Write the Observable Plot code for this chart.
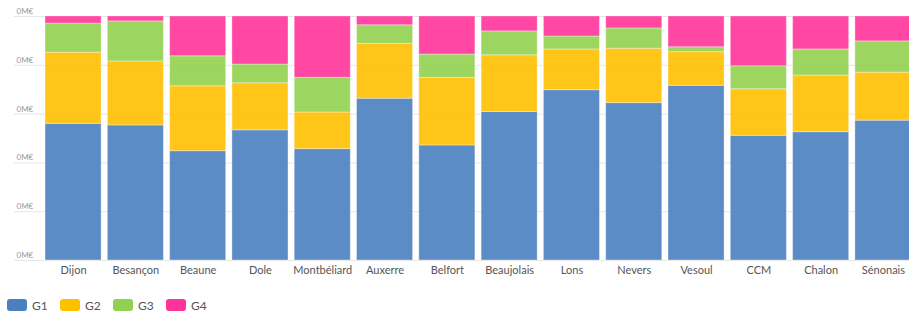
<!DOCTYPE html>
<html>
<head>
<meta charset="utf-8">
<script src="https://cdn.jsdelivr.net/npm/d3@7"></script>
<script src="https://cdn.jsdelivr.net/npm/@observablehq/plot@0.6"></script>
<style>
  html, body { margin: 0; padding: 0; background: #fff; overflow: hidden; }
  body { width: 909px; height: 313px; font-family: Lato, "Noto Sans", sans-serif; }
  #chart svg { display: block; }
  #legend { display: flex; padding-top: 12px; padding-left: 7px; height: 16px; }
  .item { display: flex; align-items: center; width: 53px; font-size: 12px; color: #555; }
  .sw { width: 20px; height: 12px; border-radius: 3px; margin-right: 5px; }
</style>
</head>
<body>
<div id="chart"></div>
<div id="legend"></div>
<script>
const categories = ["Dijon","Besançon","Beaune","Dole","Montbéliard","Auxerre","Belfort","Beaujolais","Lons","Nevers","Vesoul","CCM","Chalon","Sénonais"];
const seriesNames = ["G1","G2","G3","G4"];
const colors = ["#4A7FC0","#FFC000","#92D050","#FF3399"];
const G1 = [56.0,55.3,44.8,53.4,45.6,66.3,47.1,60.8,69.8,64.5,71.6,51.1,52.6,57.3];
const G2 = [29.2,26.2,26.6,19.3,15.0,22.5,27.7,23.2,16.7,22.3,13.8,19.1,23.2,19.7];
const G3 = [11.9,16.4,12.3,7.7,14.2,7.6,9.5,9.8,5.3,8.3,2.0,9.4,10.7,12.8];
const G4 = [2.9,2.0,16.3,19.7,25.1,3.6,15.6,6.1,8.2,4.9,12.6,20.4,13.5,10.2];
const yTicks = [0,0.2,0.4,0.6,0.8,1];
const yTickLabels = ["0M€","0M€","0M€","0M€","0M€","0M€"];

const seriesValues = [G1,G2,G3,G4];
const data = [];
seriesNames.forEach((s, si) => {
  categories.forEach((c, ci) => data.push({cat: c, series: s, value: seriesValues[si][ci]}));
});

const chart = Plot.plot({
  width: 909,
  height: 285,
  marginLeft: 14,
  marginRight: 0,
  marginTop: 16,
  marginBottom: 25,
  style: {fontFamily: "Lato, 'Noto Sans', sans-serif", background: "#fff"},
  x: {domain: categories, range: [38.8, 917.2], padding: 0.1, round: false, label: null},
  y: {domain: [0,1], label: null},
  color: {domain: seriesNames, range: colors},
  marks: [
    Plot.gridY(yTicks, {stroke: "#e6e6e6", strokeOpacity: 1}),
    Plot.axisY(yTicks, {tickSize: 0, tickPadding: 0, textAnchor: "start", dx: 2, dy: -5,
      fontSize: 8, fill: "#999", tickFormat: (d, i) => yTickLabels[i], label: null}),
    Plot.barY(data, Plot.stackY({offset: "normalize"}, {x: "cat", y: "value", fill: "series",
      fillOpacity: 0.9, stroke: "#fff", strokeOpacity: 0.35, strokeWidth: 1})),
    Plot.axisX({tickSize: 0, tickPadding: 6, fontSize: 11, fill: "#555", label: null})
  ]
});
document.getElementById("chart").appendChild(chart);

const legend = document.getElementById("legend");
seriesNames.forEach((s, i) => {
  const it = document.createElement("div");
  it.className = "item";
  const sw = document.createElement("div");
  sw.className = "sw";
  sw.style.background = colors[i];
  it.appendChild(sw);
  const t = document.createElement("span");
  t.textContent = s;
  it.appendChild(t);
  legend.appendChild(it);
});
</script>
</body>
</html>
